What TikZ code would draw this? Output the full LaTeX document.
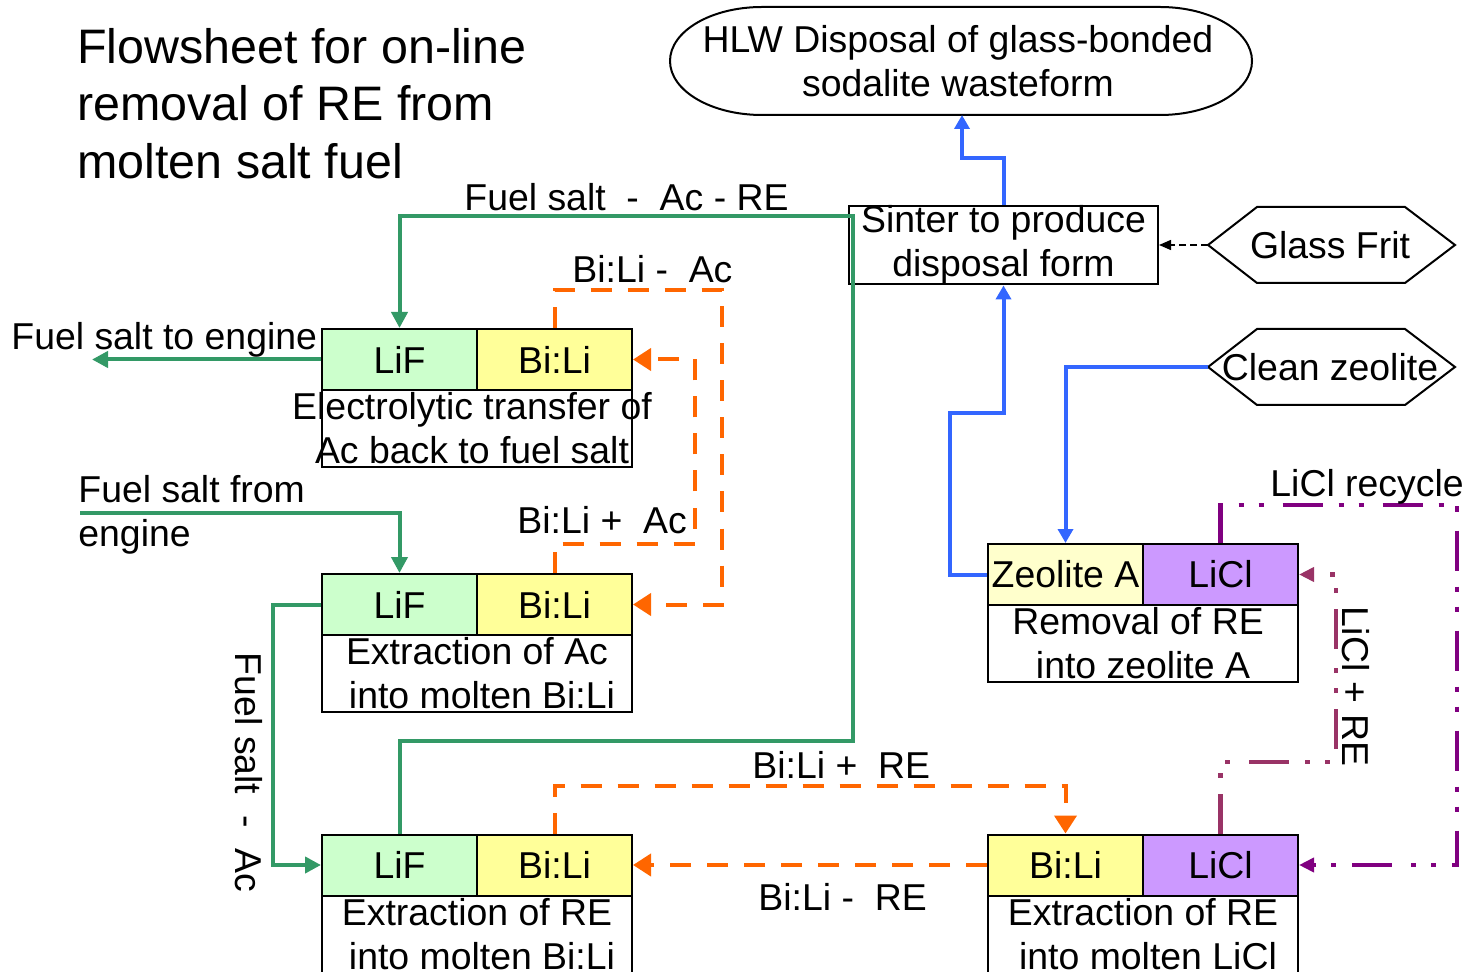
\documentclass[tikz,border=0pt]{standalone}
\usepackage{fontspec}
\setmainfont{Liberation Sans}
\usetikzlibrary{arrows.meta}
\definecolor{saltgreen}{RGB}{51,153,102}
\definecolor{bilired}{RGB}{255,102,0}
\definecolor{zeoblue}{RGB}{51,102,255}
\definecolor{liclpurple}{RGB}{128,0,128}
\definecolor{liclplum}{RGB}{153,51,102}
\definecolor{liffill}{RGB}{204,255,204}
\definecolor{bilifill}{RGB}{255,255,153}
\definecolor{liclfill}{RGB}{204,153,255}
\definecolor{zeofill}{RGB}{255,255,204}
\newcommand{\lbl}{\fontsize{18.7}{22}\selectfont}
\begin{document}
\begin{tikzpicture}[x=.5pt,y=-.5pt, every node/.style={font=\lbl,inner sep=0pt},
  cell/.style={draw,line width=1pt,minimum width=77.5pt,minimum height=30.5pt},
  descbox/.style={draw,line width=1pt,minimum width=155pt,minimum height=38.5pt},
  desc/.style={align=center},
  outline/.style={draw,line width=1pt},
  salt/.style={saltgreen,line width=2pt,-{Triangle[length=8pt,width=8pt]}},
  bili/.style={bilired,line width=2pt,dash pattern=on 10.5pt off 8pt,-{Triangle[length=9pt,width=11pt]}},
  zeo/.style={zeoblue,line width=2pt,-{Triangle[length=7pt,width=7.5pt]}},
  licl/.style={line width=2.25pt,dash pattern=on 20pt off 8pt on 2.5pt off 7.5pt on 2.5pt off 9.5pt,-{Triangle[length=7.5pt,width=7pt]}},
  frit/.style={black,line width=.75pt,dash pattern=on 3.5pt off 2pt,-{Triangle[length=6pt,width=5pt]}}]
  \useasboundingbox (0,0) rectangle (1471,972);
  \clip (0,0) rectangle (1471,972);
  \node[anchor=west,align=left,font=\fontsize{24.2}{28.75}\selectfont] (title) at (77,103.5)
    {Flowsheet for on-line\\removal of RE from\\molten salt fuel};

  % salt side: three contactors
  \node[cell,fill=liffill] (lifA) at (399.5,359.5) {LiF};
  \node[cell,fill=bilifill] (biliA) at (554.5,359.5) {Bi:Li};
  \node[descbox] (boxA) at (477,428.5) {};
  \node[desc] (txtA) at (472,428.5) {Electrolytic transfer of\\Ac back to fuel salt};
  \node[cell,fill=liffill] (lifB) at (399.5,604.5) {LiF};
  \node[cell,fill=bilifill] (biliB) at (554.5,604.5) {Bi:Li};
  \node[descbox] (boxB) at (477,673.5) {};
  \node[desc] (txtB) at (boxB) {Extraction of Ac\\\hspace*{5pt}into molten Bi:Li};
  \node[cell,fill=liffill] (lifC) at (399.5,865) {LiF};
  \node[cell,fill=bilifill] (biliC) at (554.5,865) {Bi:Li};
  \node[descbox] (boxC) at (477,934.5) {};
  \node[desc] (txtC) at (boxC) {Extraction of RE\\\hspace*{5pt}into molten Bi:Li};

  % chloride side
  \node[cell,fill=bilifill] (biliD) at (1065.5,865) {Bi:Li};
  \node[cell,fill=liclfill] (liclD) at (1220.5,865) {LiCl};
  \node[descbox] (boxD) at (1143,934.5) {};
  \node[desc] (txtD) at (boxD) {Extraction of RE\\\hspace*{5pt}into molten LiCl};
  \node[cell,fill=zeofill] (zeoE) at (1065.5,574.5) {Zeolite A};
  \node[cell,fill=liclfill] (liclE) at (1220.5,574.5) {LiCl};
  \node[descbox] (boxE) at (1143,643.5) {};
  \node[desc] (txtE) at (1138,643.5) {Removal of RE\\\hspace*{5pt}into zeolite A};

  % waste form
  \node[outline,minimum width=154.5pt,minimum height=38pt,align=center] (sinter) at (1003.5,245)
    {Sinter to produce\\disposal form};
  \draw[line width=1pt] (762,7) -- (1160,7) arc[start angle=-90,end angle=90,x radius=92,y radius=54]
    -- (962,115) coordinate (hlwS) -- (762,115) arc[start angle=90,end angle=270,x radius=92,y radius=54] -- cycle;
  \node[desc] (hlw) at (958,61) {HLW Disposal of glass-bonded\\sodalite wasteform};
  \draw[line width=1pt] (1208,245) coordinate (fritW) -- (1257,207) -- (1405,207) -- (1455,245)
    -- (1405,283) -- (1257,283) -- cycle;
  \node (glass) at (1330,245) {Glass Frit};
  \draw[line width=1pt] (1208,367) coordinate (cleanW) -- (1257,329) -- (1405,329) -- (1455,367)
    -- (1405,405) -- (1257,405) -- cycle;
  \node (clean) at (1330,367) {Clean zeolite};

  % fuel salt
  \coordinate (toengine) at (92,359.5);
  \coordinate (fromengine) at (80,513);
  \draw[salt] (lifA.west) -- (toengine);
  \draw[salt] (fromengine) -| (lifB.north);
  \draw[salt] (lifB.west) -- ++(-48,0) |- (lifC.west);
  \draw[salt] (lifC.north) -- ++(0,-93) -| (853,216) -| (lifA.north);
  \node[anchor=base west] (toengineLbl) at (11,350) {Fuel salt to engine};
  \node[anchor=west,align=left] (fromengineLbl) at (78,515) {Fuel salt from\\engine};
  \node[anchor=base] (returnLbl) at (626.5,211) {Fuel salt\ \ -\ \ Ac - RE};
  \node[anchor=base,rotate=-90] (acLbl) at (235,772.5) {Fuel salt\ \ -\ \ Ac};

  % Bi:Li loops
  \draw[bili] (biliA.north) |- (722,290) |- (biliB.east);
  \draw[bili] (biliB.north) |- (695,544) |- (biliA.east);
  \draw[bili] (biliC.north) -- ++(0,-48) -| (biliD.north);
  \draw[bili] (biliD.west) -- (biliC.east);
  \node[anchor=base west] (acOutLbl) at (572,283) {Bi:Li -\ \ Ac};
  \node[anchor=base west] (acInLbl) at (517,533) {Bi:Li +\ \ Ac};
  \node[anchor=base west] (reInLbl) at (752,778) {Bi:Li +\ \ RE};
  \node[anchor=base west] (reOutLbl) at (758,910) {Bi:Li -\ \ RE};

  % LiCl loops
  \draw[licl,liclpurple] (liclE.north) |- (1457,505) |- (liclD.east);
  \draw[licl,liclplum] (liclD.north) |- (1336,762) |- (liclE.east);
  \node[anchor=base west] (recycleLbl) at (1270,496) {LiCl recycle};
  \node[anchor=base,rotate=-90] (liclreLbl) at (1342,686.5) {LiCl + RE};

  % zeolite and glass
  \draw[zeo] (cleanW) -| (zeoE.north);
  \draw[zeo] (zeoE.west) -| (950,413) -| (sinter.south);
  \draw[zeo] (sinter.north) -- ++(0,-47) -| (hlwS);
  \draw[frit] (fritW) -- (sinter.east);
\end{tikzpicture}
\end{document}
